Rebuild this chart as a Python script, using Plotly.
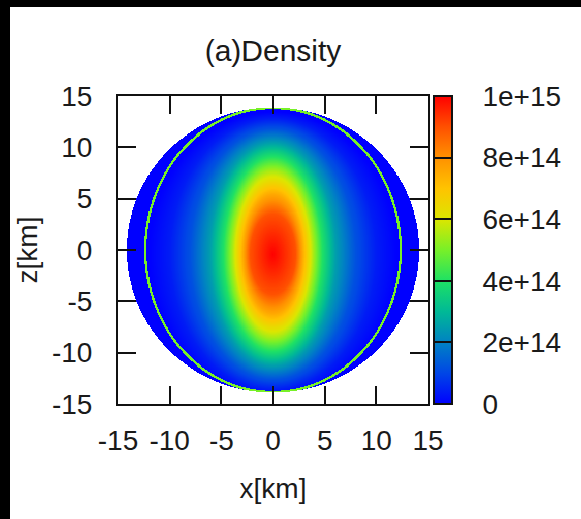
import numpy as np
import plotly.graph_objects as go

# ---- density field description (units: km) ----
# contour levels of the core, with their semi-axes along x and along z
level_values = [1.0e15, 9.0e14, 7.5e14, 5.5e14, 4.0e14, 2.5e14, 1.2e14, 0.4e14, 0.0]
level_ax = [0.0, 2.2, 2.9, 3.9, 4.8, 6.1, 8.0, 10.0, 12.0]
level_bz = [0.0, 3.9, 5.9, 8.1, 9.5, 10.9, 12.2, 13.2, 13.85]
core_center_z = -0.4

# thin shell (ring) and outer surface of the star
ring_ax, ring_bz, ring_value = 12.35, 13.85, 5.0e14
surface_ax, surface_bz = 14.15, 13.9

axis_ticks = [-15, -10, -5, 0, 5, 10, 15]
axis_labels = ["-15", "-10", "-5", "0", "5", "10", "15"]
cbar_ticks = [0, 2e14, 4e14, 6e14, 8e14, 1e15]
cbar_labels = ["0", "2e+14", "4e+14", "6e+14", "8e+14", "1e+15"]

# ---- grid ----
xs = np.linspace(-15, 15, 301)
zs = np.linspace(-15, 15, 301)
X, Z = np.meshgrid(xs, zs)
Zc = Z - core_center_z

idx = np.arange(len(level_values))
s_fine = np.linspace(0, len(level_values) - 1, 400)
a_f = np.interp(s_fine, idx, level_ax)
b_f = np.interp(s_fine, idx, level_bz)
v_f = np.interp(s_fine, idx, level_values)

dens = np.full(X.shape, 0.0)
for k in range(len(s_fine) - 1, 0, -1):
    inside = (X / a_f[k]) ** 2 + (Zc / b_f[k]) ** 2 <= 1.0
    dens[inside] = v_f[k]
dens[(np.abs(X) < 0.05) & (np.abs(Zc) < 0.05)] = level_values[0]

r_ring = np.sqrt((X / ring_ax) ** 2 + (Z / ring_bz) ** 2)
dens[r_ring > 1.0] = 0.0
dens[np.abs(r_ring - 1.0) < 0.009] = ring_value
r_surf = (X / surface_ax) ** 2 + (Z / surface_bz) ** 2
dens[r_surf > 1.0] = np.nan

colorscale = [
    [0.0, "rgb(0,0,255)"],
    [0.1, "rgb(0,70,230)"],
    [0.2, "rgb(0,130,195)"],
    [0.3, "rgb(0,185,150)"],
    [0.4, "rgb(30,225,100)"],
    [0.5, "rgb(120,240,40)"],
    [0.6, "rgb(220,230,0)"],
    [0.7, "rgb(255,195,0)"],
    [0.8, "rgb(255,145,0)"],
    [0.9, "rgb(255,80,0)"],
    [1.0, "rgb(255,0,0)"],
]

FONT = "Liberation Sans, Arial, sans-serif"
TXT = "#1a1a1a"
FS = 28
pad = "\u00a0" * 3

fig = go.Figure(
    go.Heatmap(
        x=xs, y=zs, z=dens,
        zmin=0, zmax=1e15,
        colorscale=colorscale,
        hoverongaps=False,
        colorbar=dict(
            x=(434 - 118) / 310, xanchor="left", xpad=0,
            y=0.5, yanchor="middle", ypad=0,
            len=308, lenmode="pixels",
            thickness=18, thicknessmode="pixels",
            outlinecolor="#111", outlinewidth=2,
            tickmode="array", tickvals=cbar_ticks,
            ticktext=[pad + t for t in cbar_labels],
            ticks="inside", ticklen=18, tickwidth=2, tickcolor="#111",
            tickfont=dict(family=FONT, size=FS, color=TXT),
        ),
    )
)

axis_common = dict(
    range=[-15, 15],
    tickmode="array",
    tickvals=axis_ticks,
    ticktext=axis_labels,
    ticks="inside",
    ticklen=18,
    tickwidth=2,
    tickcolor="#111",
    showline=True,
    linecolor="#111",
    linewidth=2,
    mirror="allticks",
    showgrid=False,
    zeroline=False,
    tickfont=dict(family=FONT, size=FS, color=TXT),
)

fig.update_xaxes(
    **axis_common,
    title=dict(text="x[km]", font=dict(family=FONT, size=FS, color=TXT), standoff=24),
    ticklabelstandoff=10,
)
fig.update_yaxes(
    **axis_common,
    title=dict(text="z[km]", font=dict(family=FONT, size=FS, color=TXT), standoff=6),
    ticklabelstandoff=18,
)

W, H = 581, 519
L, R, T, B = 118, W - 428, 96, H - 404
pw, ph = W - L - R, H - T - B

def px_x(p):
    return (p - L) / pw

def px_y(p):
    return (H - B - p) / ph

fig.update_layout(
    width=W, height=H,
    margin=dict(l=L, r=R, t=T, b=B, pad=0, autoexpand=False),
    paper_bgcolor="white",
    plot_bgcolor="white",
    title=dict(text="(a)Density", x=px_x(273), xref="paper", xanchor="center",
               y=1 - 50 / H, yanchor="middle",
               font=dict(family=FONT, size=30, color=TXT)),
    shapes=[
        # dark band along the top and left edges of the page
        dict(type="rect", xref="paper", yref="paper",
             x0=px_x(-5), x1=px_x(W + 5), y0=px_y(7), y1=px_y(-5),
             fillcolor="black", line=dict(width=0), layer="above"),
        dict(type="rect", xref="paper", yref="paper",
             x0=px_x(-5), x1=px_x(10), y0=px_y(H + 5), y1=px_y(-5),
             fillcolor="black", line=dict(width=0), layer="above"),
    ],
)

fig.write_html(
    "out.html",
    post_script=(
        "document.documentElement.style.background='white';"
        "document.body.style.background='white';"
        "document.body.style.margin='0';"
        "document.body.style.overflow='hidden';"
    ),
)
